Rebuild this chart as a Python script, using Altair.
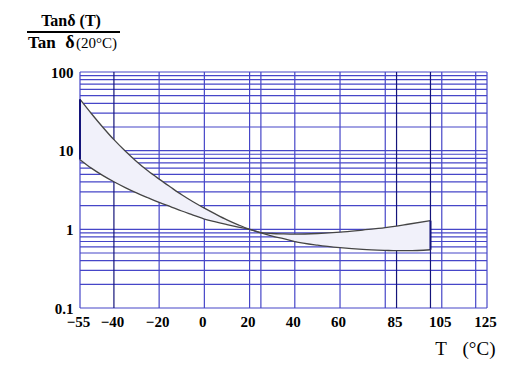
import altair as alt
import pandas as pd

# ---- data ----
temps = [-55, -50, -45, -40, -35, -30, -25, -20, -15, -10, -5, 0, 5, 10, 15, 20,
         25, 30, 35, 40, 50, 60, 70, 80, 85, 90, 100]
upper = [45, 29.7, 20.0, 13.8, 9.9, 7.3, 5.55, 4.35, 3.45, 2.75, 2.24, 1.86, 1.56, 1.32, 1.14, 1.0,
         0.91, 0.885, 0.875, 0.87, 0.885, 0.92, 0.98, 1.05, 1.10, 1.16, 1.29]
lower = [7.7, 6.0, 4.85, 4.02, 3.39, 2.90, 2.52, 2.20, 1.94, 1.71, 1.52, 1.35, 1.24, 1.15, 1.07, 1.0,
         0.90, 0.82, 0.76, 0.70, 0.63, 0.585, 0.555, 0.54, 0.535, 0.535, 0.55]

x_ticks = [-55, -40, -20, 0, 20, 40, 60, 85, 105, 125]
y_ticks = [0.1, 1, 10, 100]
x_grid_blue = [-55, -20, 0, 20, 25, 40, 60, 80, 105, 120, 125]
x_grid_navy = [-40, 85, 100]
y_grid = [0.1, 0.2, 0.3, 0.4, 0.5, 0.6, 0.7, 0.8, 0.9,
          1, 2, 3, 4, 5, 6, 7, 8, 9,
          10, 20, 30, 40, 50, 60, 70, 80, 90, 100]

num_text = ["Tanδ (T)"]
den_text = ["Tan"]
den_delta = ["δ"]
den_small = ["(20°C)"]
xt_T = ["T"]
xt_unit = ["(°C)"]

FONT = "Liberation Serif"
W, H = 407, 236
BLUE = "#4646c8"
NAVY = "#14147a"

df = pd.DataFrame({"T": temps, "upper": upper, "lower": lower})
xs = alt.Scale(domain=[-55, 125], nice=False, zero=False)
ys = alt.Scale(type="log", domain=[0.1, 100], nice=False)

xaxis = alt.Axis(values=x_ticks, format="d", grid=False, ticks=False, domain=False,
                 labelFont=FONT, labelFontSize=15, labelFontWeight="bold", labelColor="black",
                 labelPadding=6, labelOffset=-2, title=None, labelFlush=False)
yaxis = alt.Axis(values=y_ticks, format="~g", grid=False, ticks=False, domain=False,
                 labelFont=FONT, labelFontSize=15, labelFontWeight="bold", labelColor="black",
                 labelPadding=7, title=None, labelFlush=False)

def X(f):
    return alt.X(f, scale=xs, axis=xaxis)

def Y(f):
    return alt.Y(f, scale=ys, axis=yaxis)

vgrid_b = alt.Chart(pd.DataFrame({"g": x_grid_blue})).mark_rule(color=BLUE, strokeWidth=1.2).encode(
    x=X("g:Q"))
vgrid_n = alt.Chart(pd.DataFrame({"g": x_grid_navy})).mark_rule(color=NAVY, strokeWidth=1.2).encode(
    x=X("g:Q"))
hgrid = alt.Chart(pd.DataFrame({"g": y_grid})).mark_rule(color=BLUE, strokeWidth=1.2).encode(
    y=Y("g:Q"))

band = alt.Chart(df).mark_area(color="#f1f1fa", opacity=1, interpolate="monotone").encode(
    x=X("T:Q"), y=Y("lower:Q"), y2="upper:Q")
line_u = alt.Chart(df).mark_line(color="#454545", strokeWidth=1.3, interpolate="monotone").encode(
    x=X("T:Q"), y=Y("upper:Q"))
line_l = alt.Chart(df).mark_line(color="#454545", strokeWidth=1.3, interpolate="monotone").encode(
    x=X("T:Q"), y=Y("lower:Q"))
edges = alt.Chart(df).transform_filter(
    (alt.datum.T == -55) | (alt.datum.T == 100)
).mark_rule(color=NAVY, strokeWidth=2).encode(
    x=X("T:Q"), y=Y("lower:Q"), y2="upper:Q")

def label(txt, x, y, size, weight="bold", align="center"):
    return alt.Chart(pd.DataFrame({"t": txt})).mark_text(
        font=FONT, fontSize=size, fontWeight=weight, align=align, baseline="alphabetic",
        color="black").encode(text="t:N", x=alt.value(x), y=alt.value(y))

t_num = label(num_text, -9, -46, 16)
t_den = label(den_text, -52, -24, 17, align="left")
t_den_d = label(den_delta, -10, -24, 18, align="center")
t_den2 = label(den_small, 37, -24, 15, weight="normal", align="right")
frac = alt.Chart(pd.DataFrame({"t": num_text})).mark_rule(color="black", strokeWidth=2).encode(
    x=alt.value(-53), x2=alt.value(40), y=alt.value(-40))
t_T = label(xt_T, 361, 283, 19, weight="normal")
t_unit = label(xt_unit, 399, 283, 19, weight="normal")

chart = alt.layer(
    vgrid_b, hgrid, vgrid_n, band, line_u, line_l, edges,
    t_num, t_den, t_den_d, t_den2, frac, t_T, t_unit
).properties(
    width=W, height=H,
    autosize="none",
    padding={"left": 72, "top": 64, "right": 17, "bottom": 56},
    background="white",
).configure_view(stroke=None)

chart.save("out.html", embed_options={"renderer": "svg", "actions": False})
